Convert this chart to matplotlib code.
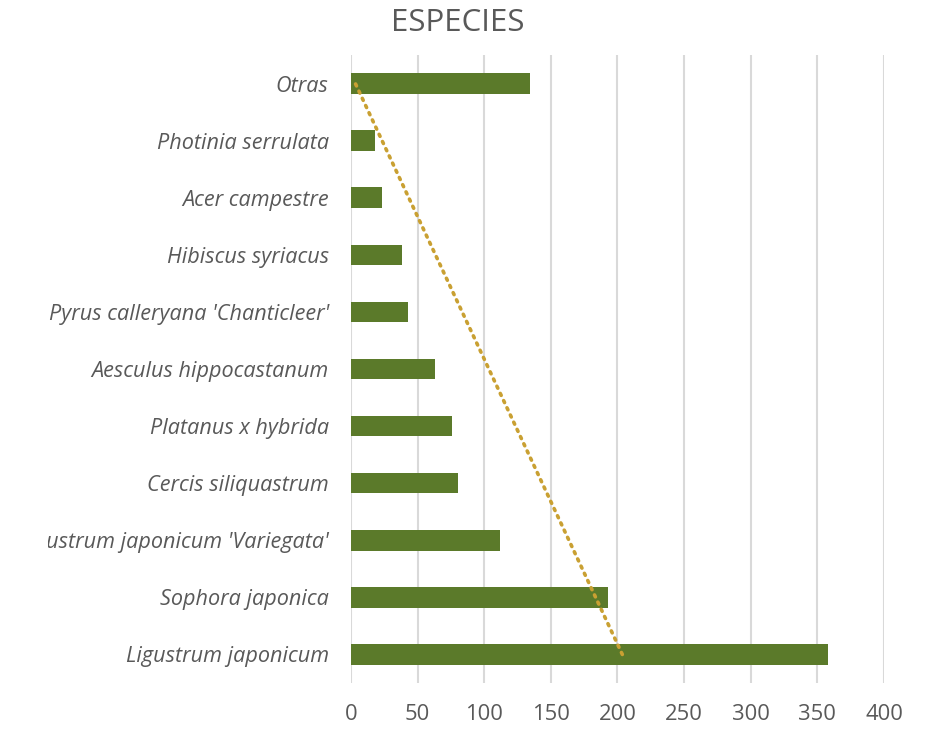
import numpy as np
import matplotlib.pyplot as plt
from matplotlib.transforms import Bbox

# species from bottom to top, as drawn
especies = ["Ligustrum japonicum", "Sophora japonica",
            "Ligustrum japonicum 'Variegata'", "Cercis siliquastrum",
            "Platanus x hybrida", "Aesculus hippocastanum",
            "Pyrus calleryana 'Chanticleer'", "Hibiscus syriacus",
            "Acer campestre", "Photinia serrulata", "Otras"]
cantidad = [358, 193, 112, 80, 76, 63, 43, 38, 23, 18, 134]
xticks = [0, 50, 100, 150, 200, 250, 300, 350, 400]

verde = "#5b7a2a"
dorado = "#c9a032"
gris = "#595959"

plt.rcParams['font.family'] = ['Open Sans', 'DejaVu Sans']

fig = plt.figure(figsize=(9.37, 7.29), dpi=100)
ax = fig.add_axes([0.3746, 0.0631, 0.5688, 0.8615])

pos = np.arange(len(especies))
ax.barh(pos, cantidad, height=0.36, color=verde, zorder=3)

# linear trendline (like Excel) over the category index
k, b = np.polyfit(pos + 1, cantidad, 1)
ax.plot(k * (pos + 1) + b, pos, linestyle=(0, (0.6, 1.6)), color=dorado,
        linewidth=2.6, dash_capstyle='round', zorder=4)

ax.set_xlim(0, 400)
ax.set_ylim(-0.5, len(especies) - 0.5)
ax.set_xticks(xticks)
ax.set_yticks(pos)
ax.set_yticklabels(especies, fontstyle='italic', fontsize=15.6, color=gris)
ax.tick_params(axis='x', labelsize=15.8, labelcolor=gris, length=0, pad=15)
ax.tick_params(axis='y', length=0, pad=16)
ax.grid(axis='x', color="#d9d9d9", linewidth=1.5, zorder=0)
for s in ax.spines.values():
    s.set_visible(False)

# the label area cuts off long labels on the left, as in the original
for lbl in ax.get_yticklabels():
    lbl.set_clip_box(Bbox([[48, 0], [937, 729]]))
    lbl.set_clip_on(True)

fig.text(0.489, 0.968, "ESPECIES", ha='center', va='center', fontsize=22.5,
         color=gris)

fig.savefig("out.png", dpi=100)
